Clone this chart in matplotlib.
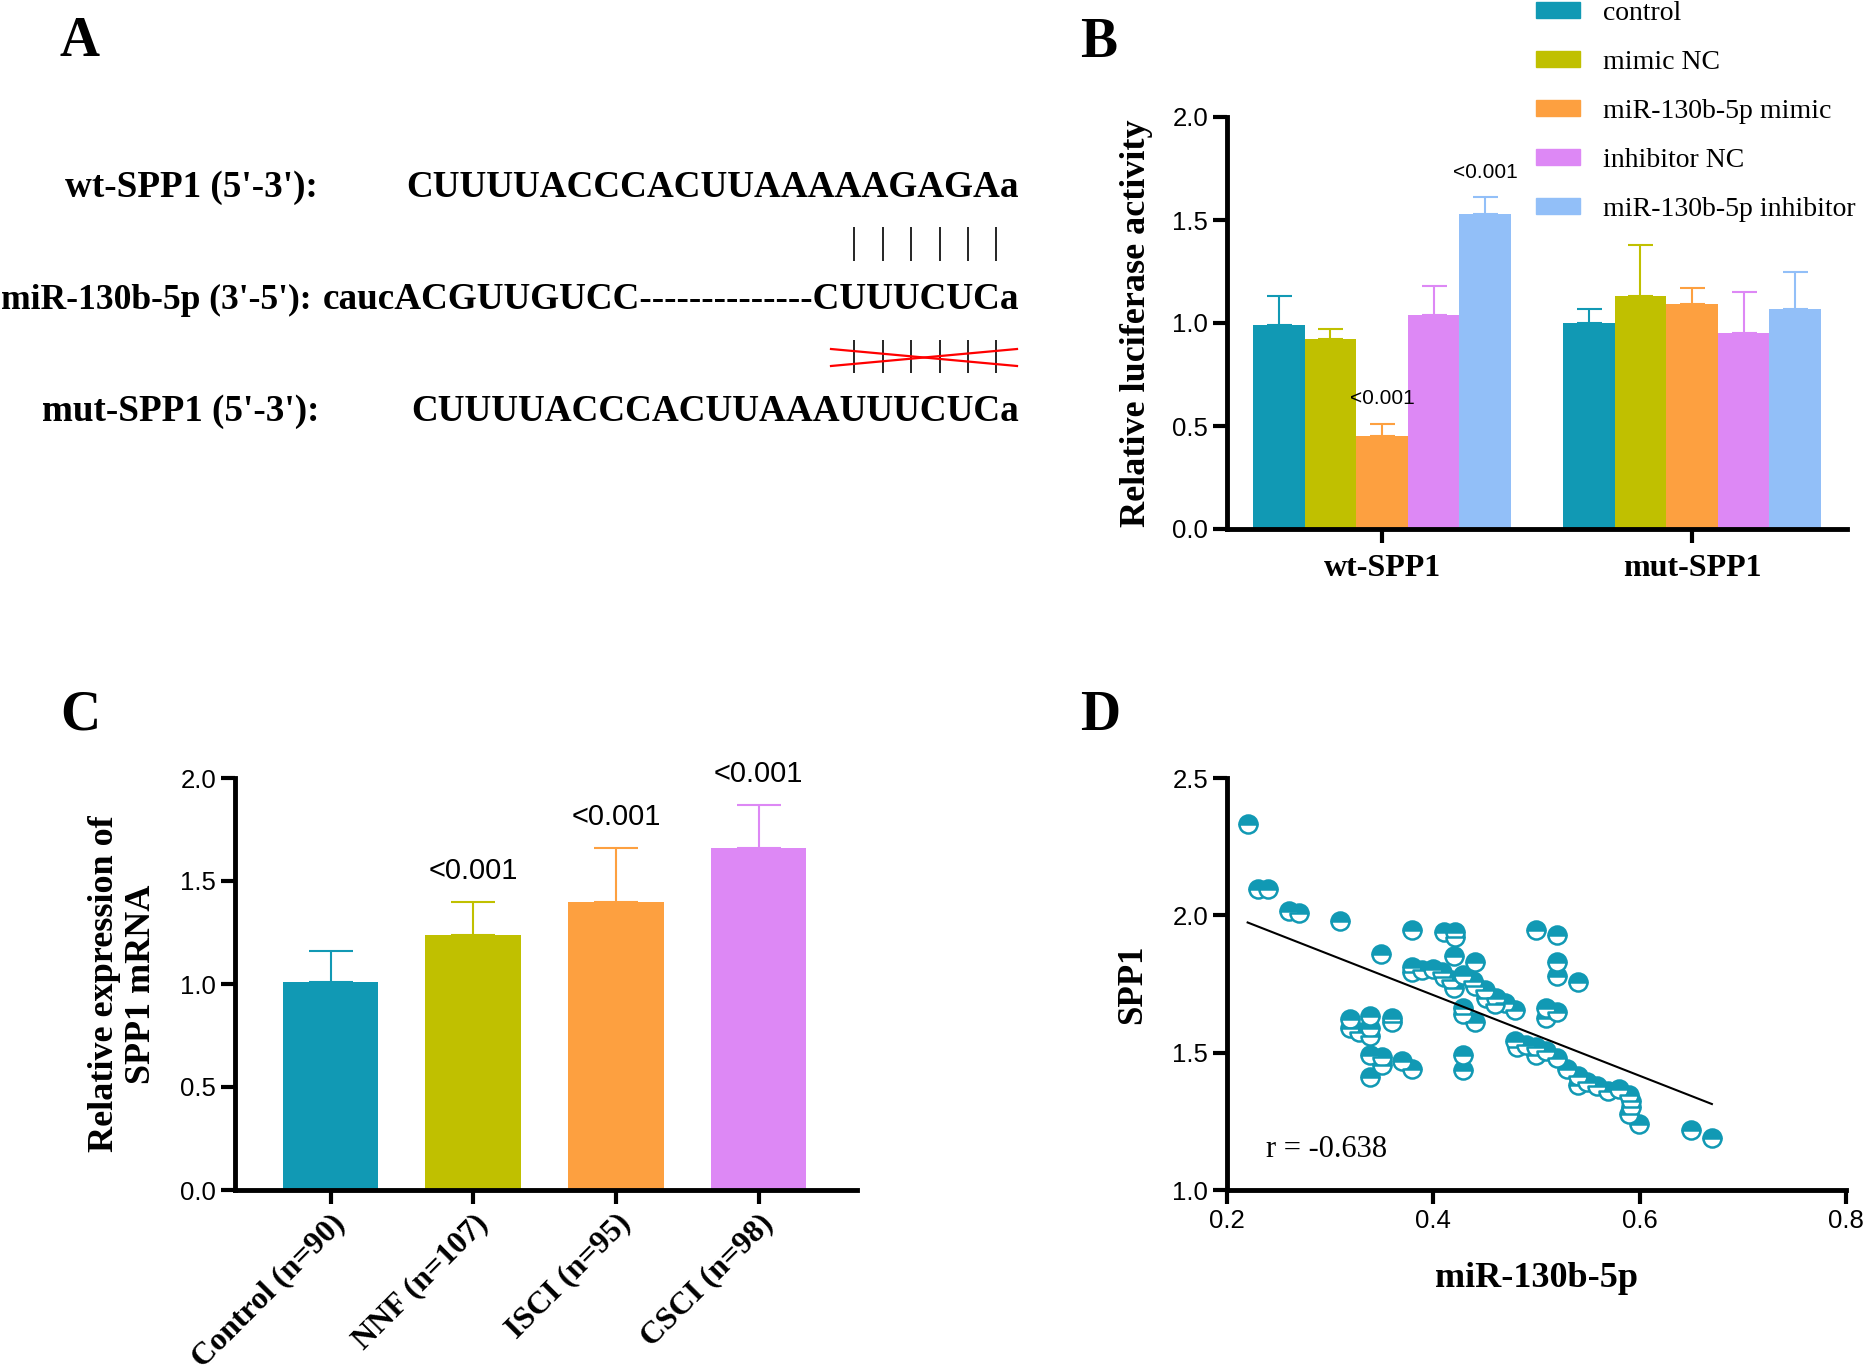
import numpy as np
import matplotlib
matplotlib.use('Agg')
import matplotlib.pyplot as plt
from matplotlib.patches import Patch

plt.rcParams['font.family'] = ['Liberation Serif', 'DejaVu Serif']
SANS = 'Liberation Sans'

# ---- data ----
# panel B: luciferase assay
series_names = ['control', 'mimic NC', 'miR-130b-5p mimic', 'inhibitor NC', 'miR-130b-5p inhibitor']
series_colors = ['#1199B4', '#C0C000', '#FDA040', '#DD88F5', '#92BFF8']
b_groups = ['wt-SPP1', 'mut-SPP1']
wt_mean = [0.99, 0.92, 0.45, 1.04, 1.53]
wt_err = [0.14, 0.05, 0.06, 0.14, 0.08]
wt_p = ['', '', '<0.001', '', '<0.001']
mut_mean = [1.00, 1.13, 1.09, 0.95, 1.07]
mut_err = [0.07, 0.25, 0.08, 0.20, 0.18]

# panel C: SPP1 mRNA expression
c_groups = ['Control (n=90)', 'NNF (n=107)', 'ISCI (n=95)', 'CSCI (n=98)']
c_mean = [1.01, 1.24, 1.40, 1.66]
c_err = [0.15, 0.16, 0.26, 0.21]
c_p = ['', '<0.001', '<0.001', '<0.001']

# panel D: correlation
mir = [0.220, 0.230, 0.240, 0.260, 0.270, 0.310, 0.379, 0.410, 0.421, 0.421,
       0.500, 0.520, 0.349, 0.420, 0.440, 0.520, 0.520, 0.540, 0.379, 0.379,
       0.389, 0.400, 0.408, 0.410, 0.417, 0.420, 0.429, 0.438, 0.440, 0.450,
       0.451, 0.461, 0.469, 0.479, 0.460, 0.429, 0.429, 0.440, 0.509, 0.509,
       0.520, 0.319, 0.319, 0.328, 0.339, 0.339, 0.339, 0.360, 0.360, 0.339,
       0.350, 0.350, 0.370, 0.379, 0.339, 0.429, 0.429, 0.479, 0.481, 0.490,
       0.500, 0.500, 0.509, 0.520, 0.530, 0.540, 0.540, 0.549, 0.559, 0.569,
       0.580, 0.590, 0.592, 0.592, 0.590, 0.599, 0.650, 0.670]
spp1 = [2.334, 2.096, 2.096, 2.017, 2.010, 1.978, 1.948, 1.938, 1.940, 1.920,
        1.948, 1.927, 1.858, 1.851, 1.829, 1.829, 1.779, 1.757, 1.811, 1.793,
        1.800, 1.805, 1.793, 1.776, 1.764, 1.736, 1.782, 1.762, 1.743, 1.728,
        1.700, 1.700, 1.681, 1.656, 1.678, 1.661, 1.642, 1.613, 1.663, 1.627,
        1.649, 1.623, 1.591, 1.574, 1.632, 1.591, 1.560, 1.627, 1.613, 1.490,
        1.483, 1.454, 1.469, 1.440, 1.411, 1.490, 1.436, 1.541, 1.522, 1.527,
        1.522, 1.493, 1.505, 1.479, 1.440, 1.415, 1.382, 1.392, 1.378, 1.361,
        1.368, 1.346, 1.325, 1.303, 1.277, 1.241, 1.219, 1.190]
fit_x = [0.22, 0.67]
fit_y = [1.974, 1.313]
r_text = 'r = -0.638'

W, H = 1865, 1372
fig = plt.figure(figsize=(W / 100, H / 100), dpi=100)


def px_axes(l, t, r, b):
    return fig.add_axes([l / W, 1 - b / H, (r - l) / W, (b - t) / H])


def style(ax):
    for s in ['top', 'right']:
        ax.spines[s].set_visible(False)
    for s in ['left', 'bottom']:
        ax.spines[s].set_linewidth(3.5)
    ax.tick_params(width=3, length=10, labelsize=18.5, labelfontfamily=SANS)


# ---- panel A: sequence alignment (pixel coordinates) ----
axA = fig.add_axes([0, 0, 1, 1])
axA.set_xlim(0, W)
axA.set_ylim(H, 0)
axA.axis('off')
seq_kw = dict(fontsize=26.7, fontweight='bold', va='baseline')
axA.text(318, 197, "wt-SPP1 (5'-3'):", ha='right', **seq_kw)
axA.text(1019, 197, 'CUUUUACCCACUUAAAAAGAGAa', ha='right', **seq_kw)
axA.text(1, 309, "miR-130b-5p (3'-5'):", ha='left', fontsize=25.6,
         fontweight='bold', va='baseline')
axA.text(1019, 309, 'caucACGUUGUCC--------------CUUUCUCa', ha='right', **seq_kw)
axA.text(320, 421, "mut-SPP1 (5'-3'):", ha='right', **seq_kw)
axA.text(1019, 421, 'CUUUUACCCACUUAAAUUUCUCa', ha='right', **seq_kw)
pair_x = [854, 883, 911, 940, 968, 996]
axA.vlines(pair_x, 227, 261, color='black', lw=1.2)
axA.vlines(pair_x, 340, 373, color='black', lw=1.2)
axA.plot([831, 1017], [349, 366], color='red', lw=1.6)
axA.plot([831, 1017], [366, 349], color='red', lw=1.6)

# ---- panel B ----
axB = px_axes(1227, 117, 1847, 529)
style(axB)
w = 0.1665
gx = np.arange(len(b_groups))
for i, name in enumerate(series_names):
    xi = gx + (i - 2) * w
    means = [wt_mean[i], mut_mean[i]]
    errs = [wt_err[i], mut_err[i]]
    axB.bar(xi, means, width=w, color=series_colors[i], zorder=2)
    axB.errorbar(xi, means, yerr=[[0, 0], errs], fmt='none', ecolor=series_colors[i],
                 elinewidth=1.5, capsize=9, capthick=1.5, zorder=1)
    if wt_p[i]:
        axB.annotate(wt_p[i], (xi[0], wt_mean[i] + wt_err[i]), xytext=(0, 18),
                     textcoords='offset points', ha='center', va='center',
                     fontsize=15, family=SANS)
axB.set_xlim(-0.5, 1.5)
axB.set_ylim(0, 2.0)
axB.set_yticks(np.arange(0, 2.01, 0.5))
axB.set_yticklabels([f'{v:.1f}' for v in np.arange(0, 2.01, 0.5)])
axB.set_xticks(gx)
axB.set_xticklabels(b_groups, fontsize=23, fontweight='bold', family='Liberation Serif')
axB.tick_params(axis='x', pad=8)
axB.set_ylabel('Relative luciferase activity', fontsize=26, fontweight='bold')
axB.yaxis.set_label_coords(-0.12, 0.5)
handles = [Patch(color=c, label=n) for c, n in zip(series_colors, series_names)]
axB.legend(handles=handles, loc='upper left', bbox_to_anchor=(1536 / W, 1 - 1 / H),
           bbox_transform=fig.transFigure, frameon=False, fontsize=20,
           handlelength=1.58, handleheight=0.5, handletextpad=0.85,
           labelspacing=0.86, borderpad=0, borderaxespad=0)

# ---- panel C ----
axC = px_axes(235, 778, 857, 1190)
style(axC)
cx = np.arange(len(c_groups))
for i in range(len(c_groups)):
    axC.bar(cx[i], c_mean[i], width=0.67, color=series_colors[i], zorder=2)
    axC.errorbar(cx[i], c_mean[i], yerr=[[0], [c_err[i]]], fmt='none', ecolor=series_colors[i],
                 elinewidth=1.5, capsize=16, capthick=1.5, zorder=1)
    if c_p[i]:
        axC.annotate(c_p[i], (cx[i], c_mean[i] + c_err[i]), xytext=(0, 22),
                     textcoords='offset points', ha='center', va='center',
                     fontsize=21, family=SANS)
axC.set_xlim(-0.67, 3.69)
axC.set_ylim(0, 2.0)
axC.set_yticks(np.arange(0, 2.01, 0.5))
axC.set_yticklabels([f'{v:.1f}' for v in np.arange(0, 2.01, 0.5)])
axC.set_xticks(cx)
axC.set_xticklabels(c_groups, rotation=45, ha='right', rotation_mode='anchor',
                    fontsize=23, fontweight='bold', family='Liberation Serif')
axC.set_ylabel('Relative expression of\nSPP1 mRNA', fontsize=26, fontweight='bold',
               linespacing=1.15)
axC.yaxis.set_label_coords(-0.124, 0.5)

# ---- panel D ----
axD = px_axes(1227, 778, 1846, 1190)
style(axD)
axD.plot(mir, spp1, 'o', ls='none', ms=13, fillstyle='top', mfc='#1199B4',
         mfcalt='white', mec='#1199B4', mew=1.8, clip_on=False)
axD.plot(fit_x, fit_y, color='black', lw=1.5)
axD.set_xlim(0.2, 0.8)
axD.set_ylim(1.0, 2.5)
axD.set_xticks(np.arange(0.2, 0.81, 0.2))
axD.set_xticklabels([f'{v:.1f}' for v in np.arange(0.2, 0.81, 0.2)])
axD.set_yticks(np.arange(1.0, 2.51, 0.5))
axD.set_yticklabels([f'{v:.1f}' for v in np.arange(1.0, 2.51, 0.5)])
axD.set_xlabel('miR-130b-5p', fontsize=26, fontweight='bold')
axD.xaxis.set_label_coords(0.5, -0.175)
axD.set_ylabel('SPP1', fontsize=25, fontweight='bold')
axD.yaxis.set_label_coords(-0.125, 0.5)
axD.text(0.238, 1.149, r_text, fontsize=22, va='center', ha='left')

# panel letters
for letter, (px, py) in zip('ABCD', [(80, 42), (1099, 43), (80, 716), (1100, 716)]):
    fig.text(px / W, 1 - py / H, letter, fontsize=40, fontweight='bold',
             ha='center', va='center')

fig.savefig('out.png', dpi=100)
